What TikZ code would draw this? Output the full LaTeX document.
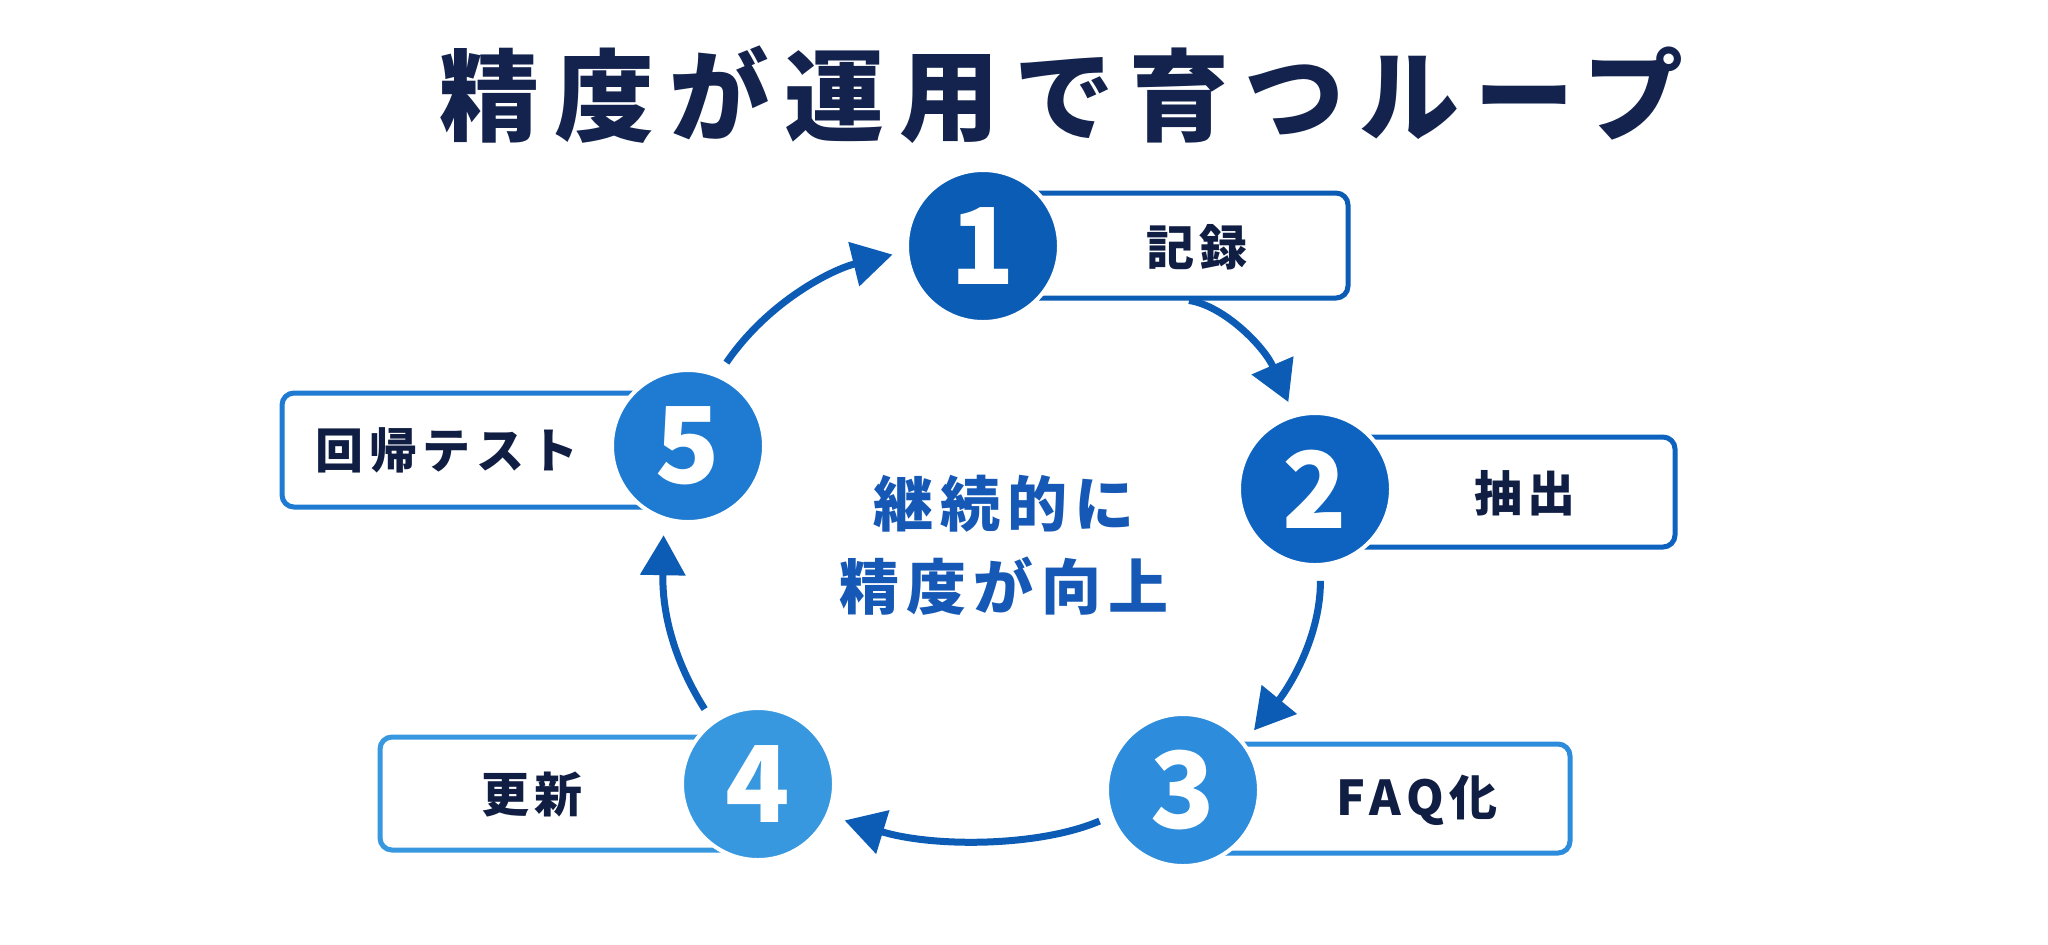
\documentclass[tikz,border=0pt]{standalone}
\usepackage{fontspec}
\setmainfont{Noto Sans CJK JP}
\newfontfamily\spacedfont{Noto Sans CJK JP}[LetterSpace=12]
\newfontfamily\titlefont{Noto Sans CJK JP}[LetterSpace=15]
\usetikzlibrary{arrows.meta,calc}
\definecolor{navy}{HTML}{13234E}
\definecolor{ink}{HTML}{101E44}
\definecolor{midblue}{HTML}{1558B5}
\definecolor{arrowblue}{HTML}{0C5CB6}
\definecolor{blueA}{HTML}{0B5CB4}
\definecolor{blueB}{HTML}{0E63C0}
\definecolor{blueC}{HTML}{2D8CDB}
\definecolor{blueD}{HTML}{3797DF}
\definecolor{blueE}{HTML}{1E7BD1}

\begin{document}
\begin{tikzpicture}
[x=0.5pt,y=-0.5pt,>={Triangle[length=20pt,width=22pt]},
num/.style={circle,draw=white,line width=2pt,minimum size=76pt,inner sep=0pt,text=white,font=\fontsize{53}{53}\selectfont\bfseries},
tag/.style={draw,rounded corners=6pt,line width=2.5pt,fill=white,inner sep=0pt},
word/.style={text=ink,font=\spacedfont\fontsize{24}{24}\selectfont\bfseries},
flow/.style={->,draw=arrowblue,line width=3.5pt},]

%Canvas
\useasboundingbox (0,0) rectangle (2048,944);
\fill[white] (0,0) rectangle (2048,944);

%Title
\node (title) at (1061,95)[text=navy,font=\titlefont\fontsize{50}{50}\selectfont\bfseries] {精度が運用で育つループ};

%Label boxes
\node (b1) at (1149,245.5)[tag,draw=blueA,minimum width=199pt,minimum height=52.5pt] {};
\node (b2) at (1482.5,492)[tag,draw=blueB,minimum width=192.5pt,minimum height=55pt] {};
\node (b3) at (1365,798.5)[tag,draw=blueC,minimum width=205pt,minimum height=54.5pt] {};
\node (b4) at (580,793.5)[tag,draw=blueD,minimum width=200pt,minimum height=56.5pt] {};
\node (b5) at (496,450)[tag,draw=blueE,minimum width=214pt,minimum height=57pt] {};

%Labels
\node (t1) at (1197,247)[word] {記録};
\node (t2) at (1525,493)[word] {抽出};
\node (t3) at (1417,800)[word] {FAQ化};
\node (t4) at (532,795)[word] {更新};
\node (t5) at (447,450)[word] {回帰テスト};

%Step circles
\node (s1) at (983,246)[num,fill=blueA] {1};
\node (s2) at (1315,489)[num,fill=blueB] {2};
\node (s3) at (1183,790)[num,fill=blueC] {3};
\node (s4) at (758,784)[num,fill=blueD] {4};
\node (s5) at (688,446)[num,fill=blueE] {5};

%Centre text
\node (mid) at (1004,545)[align=center,text=midblue,font=\spacedfont\fontsize{30}{41.5}\selectfont\bfseries] {継続的に\\精度が向上};

%Loop arrows
\draw[flow,shorten >=6.5pt] ($(b1.south)+(40,0)$) .. controls +(35,5) and +(-29,-67) .. (s2.106);
\draw[flow,shorten <=7pt,shorten >=7.5pt] (s2.-86) .. controls +(0,74) and +(41,-50) .. (s3.38);
\draw[flow,shorten <=5.5pt,shorten >=8pt] (s3.200) .. controls +(-70,30) and +(105,32) .. (s4.-24);
\draw[flow,shorten <=7pt,shorten >=7.5pt] (s4.126) .. controls +(-33,-52) and +(-2,101) .. (s5.252);
\draw[flow,shorten <=7pt,shorten >=6.5pt] (s5.67) .. controls +(50,-73) and +(-73,18) .. (s1.184);

\end{tikzpicture}
\end{document}
